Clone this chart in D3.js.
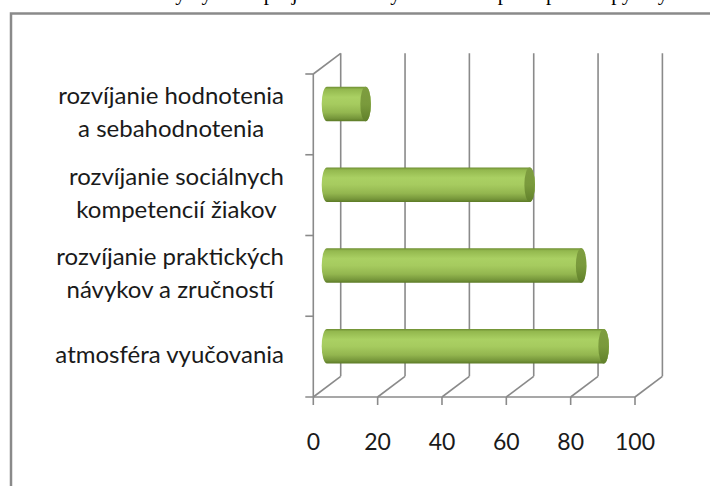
<!DOCTYPE html>
<html>
<head>
<meta charset="utf-8">
<script src="https://cdn.jsdelivr.net/npm/d3@7"></script>
<style>
  html, body { margin: 0; padding: 0; background: #fff; }
  svg { display: block; }
</style>
</head>
<body>
<div id="chart"></div>
<script>
// data, top to bottom as drawn
const categories = ["hodnotenie", "socialne", "prakticke", "atmosfera"];
const labelLines = [
  ["rozvíjanie hodnotenia", "a sebahodnotenia"],
  ["rozvíjanie sociálnych", "kompetencií žiakov"],
  ["rozvíjanie praktických", "návykov a zručností"],
  ["atmosféra vyučovania"]
];
const values = [12, 63, 79, 86];
const xTicks = [0, 20, 40, 60, 80, 100];
const captionText = "Graf 5 Prínosy využitia projektového vyučovania v praxi podľa opýtaných";

const width = 710, height = 486;
const gray = "#8a8a8a";

const svg = d3.select("#chart").append("svg")
  .attr("width", width)
  .attr("height", height);

// cut-off line of the document above the chart
svg.append("text")
  .attr("x", 62)
  .attr("y", 0)
  .style("font-family", "Liberation Serif")
  .style("font-size", "21px")
  .style("fill", "#000")
  .text(captionText);

// chart frame (runs off the right and bottom edges)
svg.append("rect")
  .attr("x", 11).attr("y", 13.5)
  .attr("width", 800).attr("height", 600)
  .attr("fill", "none")
  .attr("stroke", gray)
  .attr("stroke-width", 2.5);

// 3d geometry
const depthX = 27.4, depthY = -20.7;
const x = d3.scaleLinear().domain([0, 100]).range([313.3, 635]);
const y = d3.scaleBand().domain(categories).range([74, 397]);
const floorY = y.range()[1];
const topY = y.range()[0];

const defs = svg.append("defs");
const body = defs.append("linearGradient")
  .attr("id", "body").attr("x1", 0).attr("x2", 0).attr("y1", 0).attr("y2", 1);
[[0, "#6f8f33"], [0.07, "#93b84e"], [0.3, "#aad063"], [0.5, "#a6cb5f"],
 [0.75, "#93b64f"], [0.92, "#75953a"], [1, "#5c7a26"]].forEach(s =>
  body.append("stop").attr("offset", s[0]).attr("stop-color", s[1]));
const cap = defs.append("linearGradient")
  .attr("id", "cap").attr("x1", 0).attr("x2", 0).attr("y1", 0).attr("y2", 1);
[[0, "#7e9d40"], [0.5, "#7a9a3c"], [1, "#60802a"]].forEach(s =>
  cap.append("stop").attr("offset", s[0]).attr("stop-color", s[1]));

const grid = svg.append("g")
  .attr("stroke", gray)
  .attr("stroke-width", 1.6)
  .attr("fill", "none");

// back wall vertical gridlines
grid.selectAll(".vgrid")
  .data(xTicks)
  .join("line")
  .attr("x1", d => x(d) + depthX).attr("x2", d => x(d) + depthX)
  .attr("y1", topY + depthY).attr("y2", floorY + depthY);

// floor diagonals
grid.selectAll(".diag")
  .data(xTicks)
  .join("line")
  .attr("x1", d => x(d)).attr("y1", floorY)
  .attr("x2", d => x(d) + depthX).attr("y2", floorY + depthY);

// front floor edge and ticks
grid.append("line")
  .attr("x1", x(0) - 8).attr("x2", x(100))
  .attr("y1", floorY).attr("y2", floorY);
grid.selectAll(".xtick")
  .data(xTicks)
  .join("line")
  .attr("x1", d => x(d)).attr("x2", d => x(d))
  .attr("y1", floorY).attr("y2", floorY + 8);

// left wall: front vertical axis, top diagonal, category ticks
grid.append("line")
  .attr("x1", x(0)).attr("x2", x(0))
  .attr("y1", topY).attr("y2", floorY);
grid.append("line")
  .attr("x1", x(0)).attr("y1", topY)
  .attr("x2", x(0) + depthX).attr("y2", topY + depthY);
grid.selectAll(".ytick")
  .data(categories.map(c => y(c)))
  .join("line")
  .attr("x1", x(0) - 8).attr("x2", x(0))
  .attr("y1", d => d).attr("y2", d => d);

// cylinders, placed at half depth
const bw = y.bandwidth();
const ry = bw * 0.213;
const rx = 5.3;
const bars = svg.append("g").selectAll("g")
  .data(values)
  .join("g");

const cyOf = (d, i) => y(categories[i]) + bw / 2 + depthY / 2;
const x0 = x(0) + depthX / 2;
const x1Of = d => x(d) + depthX / 2;

bars.append("path")
  .attr("fill", "url(#body)")
  .attr("d", (d, i) => {
    const cy = cyOf(d, i), x1 = x1Of(d);
    return `M${x0},${cy - ry} L${x1},${cy - ry} A${rx},${ry} 0 0 1 ${x1},${cy + ry}` +
      ` L${x0},${cy + ry} A${rx},${ry} 0 0 1 ${x0},${cy - ry} Z`;
  });

bars.append("ellipse")
  .attr("cx", d => x1Of(d))
  .attr("cy", (d, i) => cyOf(d, i))
  .attr("rx", rx).attr("ry", ry)
  .attr("fill", "url(#cap)");

// category labels, each block right aligned, lines centred
const labelRight = 284;
const lineH = 33;
const labels = svg.append("g")
  .style("font-family", "Lato")
  .style("font-size", "24px")
  .style("fill", "#1a1a1a");

labelLines.forEach((lines, i) => {
  const g = labels.append("g");
  const mid = y(categories[i]) + bw / 2 - 2;
  const texts = g.selectAll("text")
    .data(lines)
    .join("text")
    .attr("text-anchor", "middle")
    .attr("y", (d, j) => mid + (j - (lines.length - 1) / 2) * lineH + 8)
    .text(d => d);
  const maxW = d3.max(texts.nodes(), n => n.getComputedTextLength());
  texts.attr("x", labelRight - maxW / 2);
});

// value axis labels
svg.append("g")
  .style("font-family", "Lato")
  .style("font-size", "23px")
  .style("fill", "#1a1a1a")
  .selectAll("text")
  .data(xTicks)
  .join("text")
  .attr("x", d => x(d))
  .attr("y", 450)
  .attr("text-anchor", "middle")
  .text(d => d);
</script>
</body>
</html>
